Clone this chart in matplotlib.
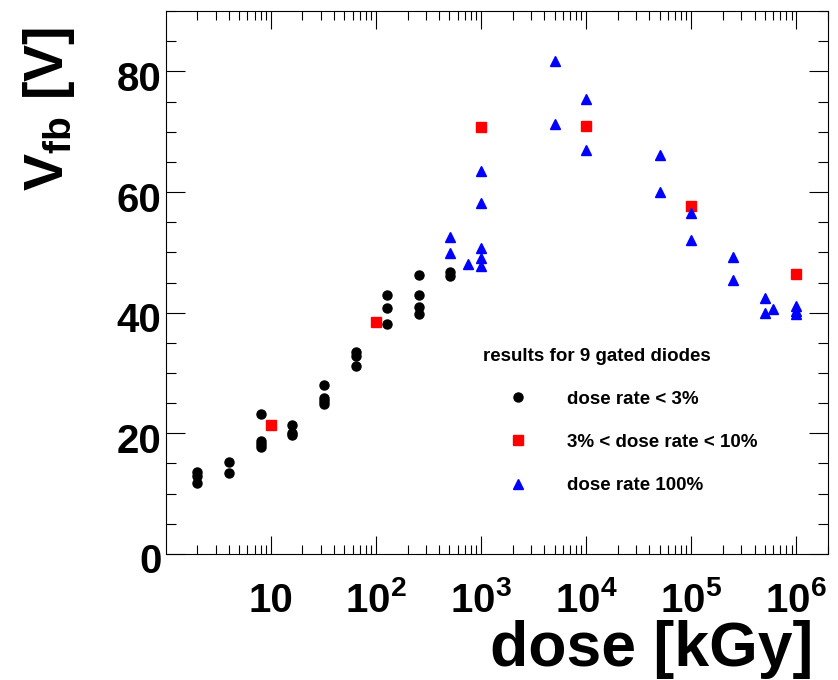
import matplotlib
matplotlib.use("Agg")
import matplotlib.pyplot as plt
from matplotlib.ticker import FixedLocator, LogLocator, MultipleLocator, NullFormatter
from matplotlib.transforms import ScaledTranslation

plt.rcParams["font.family"] = ["Liberation Sans", "DejaVu Sans"]
plt.rcParams["font.weight"] = "bold"
plt.rcParams["axes.labelweight"] = "bold"
plt.rcParams["mathtext.default"] = "regular"

# dose rate < 3%
low_dose = [2, 2, 2, 4, 4, 8, 8, 8, 8, 16, 16, 16, 32, 32, 32, 32,
            64, 64, 64, 128, 128, 128, 256, 256, 256, 256, 512, 512]
low_vfb = [13.6, 13.0, 11.8, 15.3, 13.4, 23.2, 18.8, 18.2, 17.8, 21.4, 20.0, 19.7,
           28.0, 25.9, 25.4, 24.8, 33.4, 32.8, 31.2, 43.0, 40.8, 38.2,
           46.2, 42.9, 41.0, 39.7, 46.8, 46.1]

# 3% < dose rate < 10%
mid_dose = [10, 100, 1e3, 1e4, 1e5, 1e6]
mid_vfb = [21.4, 38.5, 70.8, 70.9, 57.7, 46.4]

# dose rate 100%
high_dose = [512, 512, 750, 1e3, 1e3, 1e3, 1e3, 1e3, 5e3, 5e3, 1e4, 1e4,
             5e4, 5e4, 1e5, 1e5, 2.5e5, 2.5e5, 5e5, 5e5, 6e5, 1e6, 1e6, 1e6]
high_vfb = [52.5, 49.9, 48.0, 63.4, 58.1, 50.7, 49.1, 47.7, 81.7, 71.3, 75.4, 67.0,
            66.2, 60.0, 56.6, 52.0, 49.3, 45.4, 42.5, 39.9, 40.6, 41.1, 40.3, 39.7]

series_labels = ["dose rate < 3%", "3% < dose rate < 10%", "dose rate 100%"]
legend_title = "results for 9 gated diodes"

xtick_vals = [10, 1e2, 1e3, 1e4, 1e5, 1e6]
xtick_labels = ["10", "$10^{2}$", "$10^{3}$", "$10^{4}$", "$10^{5}$", "$10^{6}$"]

fig = plt.figure(figsize=(8.38, 6.8), dpi=100)
ax = fig.add_axes([0.1977, 0.1853, 0.7904, 0.7985])
ax.set_xscale("log")

ax.plot(low_dose, low_vfb, "o", color="black", ms=6.5, ls="none", label=series_labels[0])
ax.plot(mid_dose, mid_vfb, "s", color="red", ms=7, ls="none", label=series_labels[1])
ax.plot(high_dose, high_vfb, "^", color="blue", ms=6.7, ls="none", label=series_labels[2])

ax.set_xlim(1, 2e6)
ax.set_ylim(0, 90)

ax.xaxis.set_major_locator(FixedLocator(xtick_vals))
ax.set_xticklabels(xtick_labels)
ax.xaxis.set_minor_locator(LogLocator(base=10, subs=range(2, 10), numticks=20))
ax.xaxis.set_minor_formatter(NullFormatter())
ax.yaxis.set_major_locator(MultipleLocator(20))
ax.yaxis.set_minor_locator(MultipleLocator(5))

ax.tick_params(which="both", direction="in", top=True, right=True, width=0.8)
ax.tick_params(axis="x", which="major", length=13, labelsize=29, pad=41.8)
ax.tick_params(axis="x", which="minor", length=6.5)
ax.tick_params(axis="y", which="major", length=13.5, labelsize=29, pad=3)
ax.tick_params(axis="y", which="minor", length=7)
for lab in ax.get_xticklabels():
    lab.set_verticalalignment("baseline")
# y labels sit a little below their ticks, like the original
shift_down = ScaledTranslation(0, -0.045, fig.dpi_scale_trans)
for lab in ax.get_yticklabels():
    lab.set_transform(lab.get_transform() + shift_down)
for sp in ax.spines.values():
    sp.set_linewidth(0.8)

ax.set_xlabel("dose [kGy]", fontsize=45, fontweight="bold")
ax.xaxis.set_label_coords(0.977, -0.206)
ax.xaxis.label.set_horizontalalignment("right")
ax.xaxis.label.set_verticalalignment("baseline")

ax.set_ylabel("$V_{fb}$ [V]", fontsize=40, fontweight="bold")
ax.yaxis.set_label_coords(-0.1546, 0.971)
ax.yaxis.label.set_rotation_mode("anchor")
ax.yaxis.label.set_horizontalalignment("right")
ax.yaxis.label.set_verticalalignment("baseline")

ax.legend(loc="upper left", bbox_to_anchor=(0.5407, 0.5323), bbox_transform=fig.transFigure,
          frameon=False, title=legend_title, title_fontsize=13.5, fontsize=13.5,
          alignment="left", handlelength=3.8, handletextpad=0.71, labelspacing=1.39,
          borderpad=1.58, borderaxespad=0, numpoints=1)

fig.savefig("out.png", dpi=100)
